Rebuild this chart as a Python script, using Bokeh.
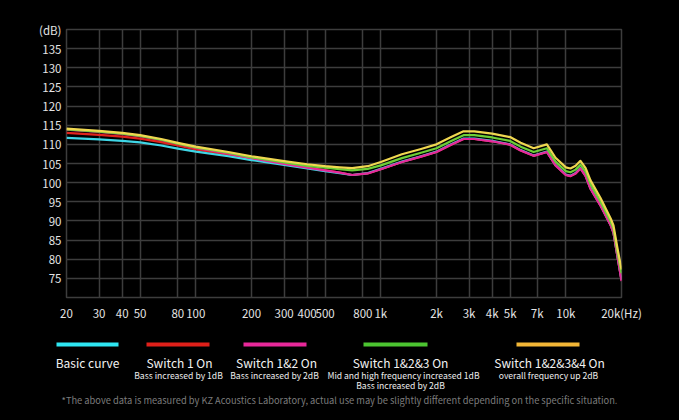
from bokeh.plotting import figure
from bokeh.layouts import column
from bokeh.models import Range1d, FixedTicker
from bokeh.core.properties import value
from bokeh.embed import file_html
from bokeh.resources import INLINE

# ---------------- data ----------------
freq = [20, 30, 40, 50, 65, 80, 100, 150, 200, 300, 400, 500, 600, 700, 850,
        1000, 1300, 1650, 2000, 2400, 2800, 3200, 4000, 5000, 5700, 6700, 7900,
        8800, 10000, 10600, 11300, 12000, 12800, 13600, 15400, 17500, 18100,
        19000, 20000]

basic = [111.7, 111.3, 110.9, 110.5, 109.7, 108.9, 108.1, 106.9, 105.9, 104.6,
         103.7, 103.0, 102.5, 102.0, 102.5, 103.6, 105.5, 106.9, 108.1, 110.0,
         111.5, 111.5, 110.9, 110.0, 108.5, 107.1, 108.1, 104.6, 102.1, 101.8,
         102.5, 103.8, 101.8, 98.5, 94.1, 88.9, 87.0, 80.9, 74.6]

switch1 = [113.0, 112.5, 112.0, 111.5, 110.6, 109.7, 108.7, 107.3, 106.2, 104.8,
           103.9, 103.2, 102.6, 102.0, 102.4, 103.5, 105.4, 106.8, 108.0, 109.9,
           111.4, 111.4, 110.8, 109.9, 108.4, 107.0, 108.0, 104.5, 102.0, 101.7,
           102.4, 103.7, 101.7, 98.4, 94.0, 88.8, 86.9, 80.8, 74.5]

switch12 = [113.85, 113.25, 112.75, 112.15, 111.15, 110.15, 109.1, 107.6, 106.4, 104.9,
            103.9, 103.2, 102.6, 102.0, 102.4, 103.5, 105.4, 106.8, 108.0, 109.9,
            111.4, 111.4, 110.8, 109.9, 108.4, 107.0, 108.0, 104.5, 102.0, 101.7,
            102.4, 103.7, 101.7, 98.4, 94.0, 88.8, 86.9, 80.8, 74.3]

switch123 = [113.9, 113.3, 112.8, 112.2, 111.2, 110.2, 109.2, 107.8, 106.6, 105.3,
             104.4, 103.9, 103.5, 103.2, 103.6, 104.5, 106.4, 107.8, 109.0, 110.9,
             112.4, 112.4, 111.8, 110.9, 109.4, 108.0, 109.0, 105.5, 103.0, 102.7,
             103.4, 104.7, 102.8, 99.6, 95.0, 89.7, 87.9, 82.0, 76.3]

switch1234 = [114.1, 113.5, 113.0, 112.4, 111.4, 110.4, 109.4, 108.0, 106.9, 105.6,
              104.8, 104.3, 104.0, 103.8, 104.3, 105.4, 107.4, 108.8, 110.0, 111.9,
              113.4, 113.4, 112.8, 111.9, 110.4, 109.0, 110.0, 106.5, 104.0, 103.7,
              104.4, 105.7, 103.8, 100.6, 96.0, 90.6, 88.8, 83.0, 77.3]

x_ticks = [20, 30, 40, 50, 80, 100, 200, 300, 400, 500, 800, 1000, 2000, 3000,
           4000, 5000, 7000, 10000, 20000]
x_labels = ["20", "30", "40", "50", "80", "100", "200", "300", "400", "500", "800",
            "1k", "2k", "3k", "4k", "5k", "7k", "10k", "20k(Hz)"]
y_ticks = [75, 80, 85, 90, 95, 100, 105, 110, 115, 120, 125, 130, 135, 140]
y_labels = ["75", "80", "85", "90", "95", "100", "105", "110", "115", "120", "125",
            "130", "135", "(dB)"]

series_names = ["Basic curve", "Switch 1 On", "Switch 1&2 On", "Switch 1&2&3 On",
                "Switch 1&2&3&4 On"]
series_notes = [[], ["Bass increased by 1dB"], ["Bass increased by 2dB"],
                ["Mid and high frequency increased 1dB", "Bass increased by 2dB"],
                ["overall frequency up 2dB"]]
footnote = ("*The above data is measured by KZ Acoustics Laboratory, actual use may "
            "be slightly different depending on the specific situation.")

# ---------------- styling ----------------
line_colors = ["#3fd6e6", "#e0231d", "#e6289a", "#6ccf36", "#efd750"]
swatch_colors = ["#2ee6f2", "#e0201a", "#e8289a", "#4cc531", "#f2b636"]
FONT = "Noto Sans CJK SC"
W = 679

# ---------------- main chart ----------------
p = figure(width=W, height=330, x_axis_type="log",
           x_range=Range1d(20, 20000), y_range=Range1d(70, 140),
           output_backend="svg", toolbar_location=None, tools="",
           background_fill_color="#000000", border_fill_color="#000000",
           min_border_left=66, min_border_right=58, min_border_top=29,
           min_border_bottom=33)
p.outline_line_color = "#3d3d3d"
p.outline_line_width = 1.5

p.xaxis.ticker = FixedTicker(ticks=x_ticks)
p.xaxis.major_label_overrides = {t: l for t, l in zip(x_ticks, x_labels)}
p.yaxis.ticker = FixedTicker(ticks=y_ticks)
p.yaxis.major_label_overrides = {t: l for t, l in zip(y_ticks, y_labels)}
for ax in (p.xaxis, p.yaxis):
    ax.axis_line_color = None
    ax.major_tick_line_color = None
    ax.minor_tick_line_color = None
    ax.major_tick_out = 0
    ax.major_tick_in = 0
    ax.major_label_text_color = "#e4e4e4"
    ax.major_label_text_font = FONT
    ax.major_label_text_font_size = "11.5px"
p.xaxis.major_label_standoff = 7
p.yaxis.major_label_standoff = 5

p.xgrid.ticker = FixedTicker(ticks=x_ticks)
p.ygrid.ticker = FixedTicker(ticks=y_ticks)
for g in (p.xgrid, p.ygrid):
    g.grid_line_color = "#3d3d3d"
    g.grid_line_width = 1.5
p.xgrid.minor_grid_line_color = None

all_series = [basic, switch1, switch12, switch123, switch1234]
draw_order = [1, 0, 2, 3, 4]
for i in draw_order:
    p.line(freq, all_series[i], line_color=line_colors[i], line_width=2.2,
           line_join="round")

# ---------------- legend strip ----------------
LH = 90
lg = figure(width=W, height=LH, x_range=Range1d(0, W), y_range=Range1d(LH, 0),
            output_backend="svg", toolbar_location=None, tools="",
            x_axis_location=None, y_axis_location=None,
            background_fill_color="#000000", border_fill_color="#000000",
            min_border=0)
lg.grid.visible = False
lg.outline_line_color = None

sw_x0 = [56, 146, 243, 363, 516]
sw_x1 = [118, 209, 306, 427, 579]
title_cx = [87, 179, 276, 400, 549]
note_cx = [[], [178], [274], [403, 400], [548]]
lg.segment(x0=sw_x0, y0=[14] * 5, x1=sw_x1, y1=[14] * 5,
           line_color=swatch_colors, line_width=4)
lg.text(x=title_cx, y=[32] * 5, text=series_names, text_color="#f2f2f2",
        text_font=value(FONT), text_font_size="12px", text_align="center",
        text_baseline="middle")
nx, ny, nt = [], [], []
for cs, notes in zip(note_cx, series_notes):
    for k, n in enumerate(notes):
        nx.append(cs[k])
        ny.append(44 + 10 * k)
        nt.append(n)
lg.text(x=nx, y=ny, text=nt, text_color="#eeeeee", text_font=value(FONT),
        text_font_size="8.6px", text_align="center", text_baseline="middle")
lg.text(x=[339], y=[69], text=[footnote], text_color="#7c7c7c",
        text_font=value(FONT), text_font_size="9.3px", text_align="center",
        text_baseline="middle")

layout = column(p, column(lg), spacing=0)
html = file_html(layout, INLINE)
html = html.replace("<body>", '<body style="background-color:#000000;">')
open("out.html", "w").write(html)
